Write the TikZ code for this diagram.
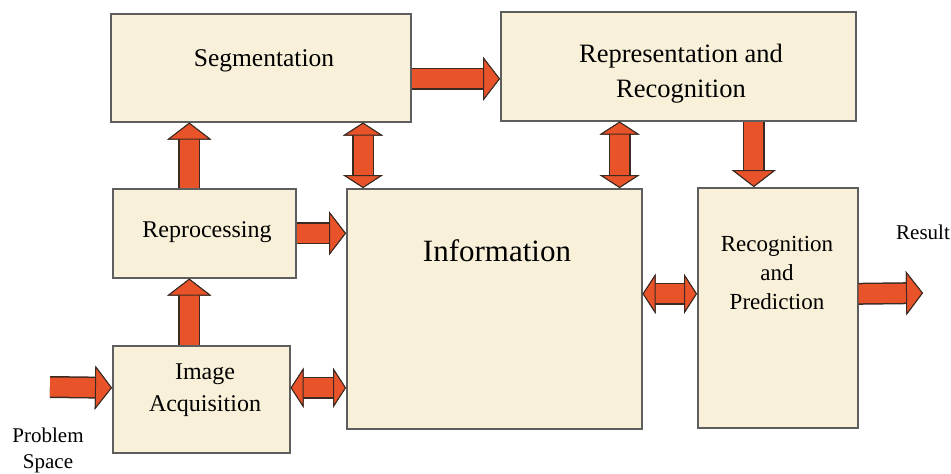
\documentclass[tikz,border=0pt]{standalone}
\usepackage{fontspec}
\setmainfont{Liberation Serif}
\usetikzlibrary{arrows.meta,calc}
\definecolor{boxfill}{HTML}{F8F0D8}
\definecolor{boxline}{HTML}{5E5E5E}
\definecolor{arrfill}{HTML}{E9532A}
\definecolor{arrline}{HTML}{3A2A22}
\tikzset{
  box/.style={draw=boxline, fill=boxfill, line width=1.6pt, inner sep=0pt, anchor=north west},
  lbl/.style={align=center, inner sep=0pt, text=black},
  tipS/.tip={Triangle[length=17pt,width=44pt,line width=1pt 0,color=arrline,fill=arrfill]},
  tipD/.tip={Triangle[length=13pt,width=40pt,line width=1pt 0,color=arrline,fill=arrfill]},
  onearr/.style={draw=arrfill, line width=19pt, -tipS, preaction={draw=arrline, line width=22pt, -tipS}},
  twoarr/.style={draw=arrfill, line width=19pt, tipD-tipD, preaction={draw=arrline, line width=22pt, tipD-tipD}},
}
\begin{document}
\begin{tikzpicture}[x=1pt,y=-1pt]
\useasboundingbox (0,0) rectangle (951,474);
% boxes
\node[box, minimum width=300pt, minimum height=108pt] (seg) at (110,13) {};
\node[box, minimum width=355pt, minimum height=109pt] (rep) at (500,11) {};
\node[box, minimum width=183pt, minimum height=89pt] (rp) at (112,188) {};
\node[box, minimum width=177pt, minimum height=107pt] (ia) at (112,345) {};
\node[box, minimum width=295pt, minimum height=240pt] (info) at (346,188) {};
\node[box, minimum width=160pt, minimum height=240pt] (rec) at (697,187) {};
% texts
\node[lbl, font=\fontsize{25.5}{30}\selectfont] (seg-t) at (264,61) {Segmentation};
\node[lbl, font=\fontsize{26.5}{35}\selectfont] (rep-t) at (681,74) {Representation and\\Recognition};
\node[lbl, font=\fontsize{24}{28}\selectfont] (rp-t) at (207,232) {Reprocessing};
\node[lbl, font=\fontsize{24}{32}\selectfont] (ia-t) at (205,390) {Image\\Acquisition};
\node[lbl, font=\fontsize{31}{36}\selectfont] (info-t) at (497,251) {Information};
\node[lbl, font=\fontsize{23}{29}\selectfont] (rec-t) at (777,273) {Recognition\\and\\Prediction};
\node[lbl, font=\fontsize{21}{25}\selectfont] (res-t) at (923,232) {Result};
\node[lbl, font=\fontsize{21}{26}\selectfont] (ps-t) at (48,450) {Problem\\Space};
% free ends
\coordinate (ps) at (50,387);
\coordinate (res) at (923,293);
% connectors
\draw[onearr] (ps) -- ([yshift=11.5pt]ia.west);
\draw[twoarr] ([yshift=11.5pt]ia.east) -- ([yshift=11.5pt]ia.east -| info.west);
\draw[onearr] ([xshift=-12pt]ia.north) -- ([xshift=-12pt]ia.north |- rp.south);
\draw[onearr] ([xshift=-15pt]rp.north) -- ([xshift=-15pt]rp.north |- seg.south);
\draw[onearr] (rp.east) -- (rp.east -| info.west);
\draw[twoarr] ([xshift=17pt]info.north west) -- ([xshift=17pt]info.north west |- seg.south);
\draw[onearr] ([yshift=-11pt]seg.east) -- ([yshift=-11pt]seg.east -| rep.west);
\draw[twoarr] ([xshift=-23pt]info.north east) -- ([xshift=-23pt]info.north east |- rep.south);
\draw[onearr] ([xshift=-24pt]rec.north |- rep.south) -- ([xshift=-24pt]rec.north);
\draw[twoarr] ([yshift=15pt]info.east) -- ([yshift=15pt]info.east -| rec.west);
\draw[onearr] ([yshift=14pt]rec.east) -- (res);
\end{tikzpicture}
\end{document}
